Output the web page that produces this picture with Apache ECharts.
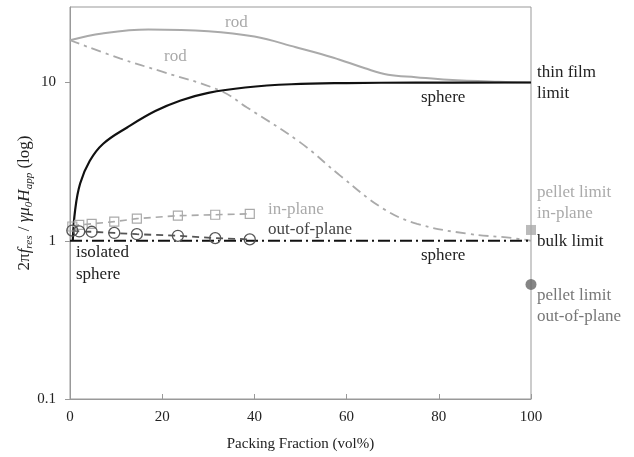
<!DOCTYPE html>
<html>
<head>
<meta charset="utf-8">
<script src="https://cdn.jsdelivr.net/npm/echarts@6/dist/echarts.min.js"></script>
<style>
  html, body { margin: 0; padding: 0; background: #fff; }
  #chart { width: 634px; height: 457px; }
</style>
</head>
<body>
<div id="chart"></div>
<script>
// packing fraction (vol%) vs 2*pi*f_res / (gamma*mu0*H_app)
const sphereX = [0.6, 1.1, 2.2, 4.3, 7.2, 12.4, 18.5, 24, 30, 38, 48, 60, 75, 100]
const sphereY = [1.0, 1.55, 2.3, 3.2, 4.1, 5.2, 6.6, 7.7, 8.6, 9.3, 9.75, 9.92, 9.98, 10]

// rod, in-plane (solid grey)
const rodInX = [0, 7, 17, 30, 40, 49, 57, 64, 69, 75, 82, 93, 100]
const rodInY = [18.5, 20.4, 21.6, 21.1, 19.5, 16.7, 14.4, 12.3, 11.2, 10.8, 10.4, 10.1, 10]

// rod, out-of-plane (dash-dot grey)
const rodOutX = [0, 10.8, 20, 32.5, 38.4, 50, 58.6, 68, 75.3, 86, 96, 100]
const rodOutY = [18.5, 14.2, 11.7, 8.9, 6.95, 4.17, 2.58, 1.59, 1.28, 1.11, 1.04, 1.0]

// sphere bulk limit (dash-dot black)
const bulkX = [0, 100]
const bulkY = [1, 1]

// measured points
const measX = [0.5, 2, 4.7, 9.6, 14.5, 23.4, 31.5, 39]
const inPlaneY = [1.23, 1.26, 1.28, 1.32, 1.38, 1.44, 1.46, 1.48]
const outPlaneY = [1.16, 1.145, 1.14, 1.12, 1.1, 1.075, 1.04, 1.02]

// pellet limits at 100 vol%
const pelletIn = [100, 1.17]
const pelletOut = [100, 0.53]

const xTicks = [0, 20, 40, 60, 80, 100]
const yTicks = [0.1, 1, 10]

const pairs = (xs, ys) => xs.map((x, i) => [x, ys[i]])

const FONT = 'Liberation Serif'
const grey = '#aaaaaa'
const dark = '#555555'

const chart = echarts.init(document.getElementById('chart'))

const note = (text, x, y, color) => ({
  type: 'text',
  x: x,
  y: y,
  silent: true,
  style: {
    text: text,
    fill: color,
    font: '17px "' + FONT + '"',
    verticalAlign: 'middle'
  }
})

chart.setOption({
  animation: false,
  grid: {
    left: 70,
    right: 103,
    top: 7,
    bottom: 58,
    show: true,
    borderColor: '#999',
    borderWidth: 1
  },
  xAxis: {
    type: 'value',
    min: 0,
    max: 100,
    interval: 20,
    name: 'Packing Fraction (vol%)',
    nameLocation: 'middle',
    nameGap: 38,
    nameMoveOverlap: false,
    nameTextStyle: { fontFamily: FONT, fontSize: 15, color: '#222' },
    axisLine: { lineStyle: { color: '#999' } },
    axisTick: { inside: true, length: 5, customValues: xTicks, lineStyle: { color: '#999' } },
    axisLabel: { fontFamily: FONT, fontSize: 15, color: '#222', margin: 11 },
    splitLine: { show: false }
  },
  yAxis: {
    type: 'log',
    logBase: 10,
    min: 0.1,
    max: 30,
    name: '{n|2π}{i|f}{s|res}{n| / }{i|γμ}{s|0}{i|H}{s|app}{n| (log)}',
    nameLocation: 'middle',
    nameRotate: 90,
    nameGap: 35,
    nameMoveOverlap: false,
    nameTextStyle: {
      rich: {
        n: { fontFamily: FONT, fontSize: 17, color: '#222', lineHeight: 20 },
        i: { fontFamily: FONT, fontSize: 17, fontStyle: 'italic', color: '#222', lineHeight: 20 },
        s: { fontFamily: FONT, fontSize: 11, fontStyle: 'italic', color: '#222', lineHeight: 10, verticalAlign: 'bottom' }
      }
    },
    axisLine: { lineStyle: { color: '#999' } },
    axisTick: { length: 5, customValues: yTicks, lineStyle: { color: '#999' } },
    axisLabel: {
      fontFamily: FONT, fontSize: 15, color: '#222', margin: 14,
      customValues: yTicks,
      formatter: v => String(v)
    },
    splitLine: { show: false }
  },
  series: [
    {
      type: 'line',
      data: pairs(rodInX, rodInY),
      smooth: 0.4,
      showSymbol: false,
      lineStyle: { color: grey, width: 2 }
    },
    {
      type: 'line',
      data: pairs(rodOutX, rodOutY),
      smooth: 0.4,
      showSymbol: false,
      lineStyle: { color: grey, width: 1.8, type: [10, 5, 3, 5] }
    },
    {
      type: 'line',
      data: pairs(sphereX, sphereY),
      smooth: 0.4,
      showSymbol: false,
      lineStyle: { color: '#111', width: 2.2 }
    },
    {
      type: 'line',
      data: pairs(bulkX, bulkY),
      showSymbol: false,
      lineStyle: { color: '#111', width: 2, type: [12, 4, 2, 4] }
    },
    {
      type: 'line',
      data: pairs(measX, inPlaneY),
      symbol: 'rect',
      symbolSize: 9,
      itemStyle: { color: 'rgba(0,0,0,0)', borderColor: grey, borderWidth: 1.2 },
      lineStyle: { color: grey, width: 1.6, type: [7, 5] }
    },
    {
      type: 'line',
      data: pairs(measX, outPlaneY),
      symbol: 'circle',
      symbolSize: 11,
      itemStyle: { color: 'rgba(0,0,0,0)', borderColor: dark, borderWidth: 1.3 },
      lineStyle: { color: dark, width: 1.8, type: [7, 5] }
    },
    {
      type: 'scatter',
      data: [pelletIn],
      symbol: 'rect',
      symbolSize: 10,
      clip: false,
      itemStyle: { color: grey }
    },
    {
      type: 'scatter',
      data: [pelletOut],
      symbol: 'circle',
      symbolSize: 11,
      clip: false,
      itemStyle: { color: '#666' }
    }
  ],
  graphic: [
    note('rod', 225, 23, grey),
    note('rod', 164, 57, grey),
    note('sphere', 421, 98, '#222'),
    note('thin film', 537, 73, '#222'),
    note('limit', 537, 94, '#222'),
    note('in-plane', 268, 210, grey),
    note('out-of-plane', 268, 230, '#444'),
    note('isolated', 76, 253, '#222'),
    note('sphere', 76, 275, '#222'),
    note('sphere', 421, 256, '#222'),
    note('pellet limit', 537, 193, grey),
    note('in-plane', 537, 214, grey),
    note('bulk limit', 537, 242, '#222'),
    note('pellet limit', 537, 296, '#777'),
    note('out-of-plane', 537, 317, '#777')
  ]
})
</script>
</body>
</html>
